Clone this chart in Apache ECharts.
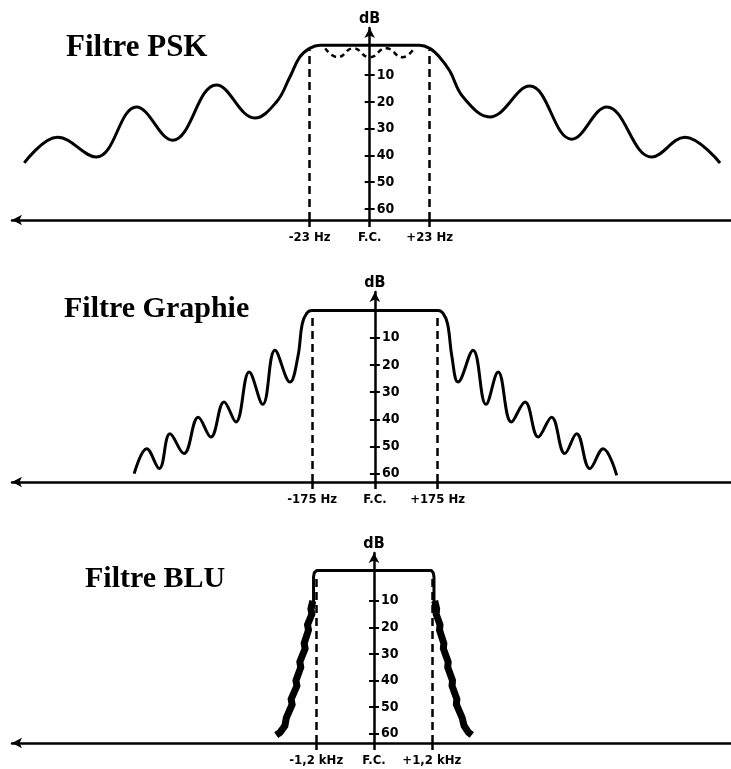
<!DOCTYPE html>
<html><head><meta charset="utf-8">
<script src="https://cdn.jsdelivr.net/npm/echarts@6/dist/echarts.min.js"></script>
<style>html,body{margin:0;padding:0;background:#fff}#c{width:731px;height:769px}</style>
</head><body><div id="c"></div>
<script>
// ---------- data ----------
const titles = ['Filtre PSK', 'Filtre Graphie', 'Filtre BLU'];
const dbTicks = [10, 20, 30, 40, 50, 60];

const pskXTicks = [-23, 0, 23];
const pskXLabels = ['-23 Hz', 'F.C.', '+23 Hz'];
const pskCutoff = [-23, 23];
const pskCurve = [[-132.3,42.8],[-119.6,33.2],[-104.7,40.6],[-89.3,21.9],[-75.5,34.3],[-58.7,13.7],[-44,26],[-35.7,20],[-30.7,11],[-26.8,3.3],[-23,0],[-19,-1.2],
  [19,-1.2],[23,0],[26.8,3.3],[30.7,8.5],[35.7,18.1],[46,25.6],[61.3,14.1],[77.4,33.9],[90.8,21.9],[108.1,40.6],[120.7,33.2],[134.2,42.8]];
const pskRipple = [[-17,0],[-12.3,3.3],[-6.3,0],[0,3.3],[6.3,0],[12.6,3.3],[17,0]];

const graphieXTicks = [-175, 0, 175];
const graphieXLabels = ['-175 Hz', 'F.C.', '+175 Hz'];
const graphieCutoff = [-175, 175];
const graphieCurve = [[-672,60],[-637,50.8],[-602,58.1],[-572,45.3],[-533,52.6],[-493,39.2],[-458,46.5],[-421,33.6],[-388,41],[-351,22.6],[-313,34.5],[-279,14.6],[-237,26.3],[-215,17],[-203,5],[-190,1],[-176,0],
  [176,0],[190,1],[203,5],[215,17],[232,26.3],[274,14.6],[310,34.5],[344,22.6],[381,41],[419,33.6],[456,46.5],[493,39.2],[530,52.6],[563,45.3],[600,58.1],[637,50.8],[675,60.6]];

const bluXTicks = [-1200, 0, 1200];
const bluXLabels = ['-1,2 kHz', 'F.C.', '+1,2 kHz'];
const bluCutoff = [-1200, 1200];
const bluCurve = [[-1255,13],[-1255,1],[-1240,-0.6],[-1190,-1.4],[1190,-1.4],[1230,-0.6],[1245,1],[1245,13]];
const bluSkirtLeft = [[-1270,10],[-1310,13],[-1290,15],[-1380,19],[-1360,21],[-1450,26],[-1430,28],[-1540,33],[-1520,35],[-1620,40],[-1600,42],[-1720,47],[-1700,49],[-1820,54],[-1850,57],[-1950,59.5],[-2030,60.5]];
const bluSkirtRight = [[1260,10],[1300,13],[1290,15],[1370,19],[1360,21],[1450,26],[1440,28],[1540,33],[1530,35],[1630,40],[1620,42],[1720,47],[1710,49],[1830,54],[1870,57],[1960,59.5],[2030,60.5]];

// ---------- layout ----------
const NARROW = "'Liberation Sans Narrow','DejaVu Sans Condensed',sans-serif";
const GRID_LEFT = 12, GRID_W = 719;
const panels = [
  {top: 28, height: 192, xmin: -137, xmax: 138.4, ymin: -7.6, ymax: 64.1, ticks: pskXTicks, labels: pskXLabels, cut: pskCutoff, cutTop: 0.5,
   curves: [pskCurve], skirts: [], ripple: pskRipple, smooth: 0.4, title: {x: 66, top: 32, size: 31}},
  {top: 292, height: 190, xmin: -1013, xmax: 994, ymin: -6.8, ymax: 63.05, ticks: graphieXTicks, labels: graphieXLabels, cut: graphieCutoff, cutTop: 2,
   curves: [graphieCurve], skirts: [], ripple: null, smooth: 0.4, title: {x: 64, top: 294, size: 30}},
  {top: 553, height: 190, xmin: -7515, xmax: 7411, ymin: -8, ymax: 63.5, ticks: bluXTicks, labels: bluXLabels, cut: bluCutoff, cutTop: 0.5,
   curves: [bluCurve], skirts: [bluSkirtLeft, bluSkirtRight], ripple: null, smooth: false, title: {x: 85, top: 564, size: 30}}
];

const grid = [], xAxis = [], yAxis = [], series = [], graphic = [];
panels.forEach((p, i) => {
  grid.push({left: GRID_LEFT, width: GRID_W, top: p.top, height: p.height});
  // place the dB axis at F.C. (x = 0) of this panel's frequency scale
  const yOffset = -GRID_W * (0 - p.xmin) / (p.xmax - p.xmin);
  xAxis.push({
    gridIndex: i, type: 'value', min: p.xmin, max: p.xmax,
    axisLine: {show: true, onZero: false, symbol: ['arrow', 'none'], symbolSize: [8, 10], lineStyle: {color: '#000', width: 2.5}},
    axisTick: {show: true, customValues: p.ticks, length: 7, lineStyle: {color: '#000', width: 2.5}},
    axisLabel: {show: true, customValues: p.ticks, margin: 11, color: '#000', fontFamily: NARROW, fontWeight: 'bold', fontSize: 13,
      formatter: v => { const k = p.ticks.indexOf(v); return k >= 0 ? p.labels[k] : ''; }},
    splitLine: {show: false}
  });
  const yBase = {gridIndex: i, type: 'value', inverse: true, min: p.ymin, max: p.ymax, position: 'left', offset: yOffset, splitLine: {show: false}};
  yAxis.push(Object.assign({}, yBase, {
    name: 'dB', nameLocation: 'start', nameGap: 1,
    nameTextStyle: {color: '#000', fontFamily: NARROW, fontWeight: 'bold', fontSize: 16},
    axisLine: {show: true, onZero: false, symbol: ['none', 'arrow'], symbolSize: [8, 10], lineStyle: {color: '#000', width: 2.5}},
    axisTick: {show: true, customValues: dbTicks, length: 5, inside: false, lineStyle: {color: '#000', width: 2}},
    axisLabel: {show: true, customValues: dbTicks, inside: true, margin: 7, color: '#000', fontFamily: NARROW, fontWeight: 'bold', fontSize: 14}
  }));
  yAxis.push(Object.assign({}, yBase, {
    axisLine: {show: false, onZero: false},
    axisTick: {show: true, customValues: dbTicks, length: 5, inside: true, lineStyle: {color: '#000', width: 2}},
    axisLabel: {show: false}
  }));
  const yIdx = 2 * i;
  p.curves.forEach((c, k) => {
    series.push({
      type: 'line', xAxisIndex: i, yAxisIndex: yIdx, data: c, smooth: p.smooth, symbol: 'none', silent: true,
      lineStyle: {color: '#000', width: 3}, z: 3,
      markLine: k === 0 ? {
        silent: true, symbol: ['none', 'none'], label: {show: false},
        lineStyle: {color: '#000', width: 2.5, type: [8, 5]},
        data: p.cut.map(cx => [{coord: [cx, p.ymax]}, {coord: [cx, p.cutTop]}])
      } : undefined
    });
  });
  p.skirts.forEach(s => {
    series.push({type: 'line', xAxisIndex: i, yAxisIndex: yIdx, data: s, smooth: false, symbol: 'none', silent: true,
      lineStyle: {color: '#000', width: 7, join: 'miter'}, z: 3});
  });
  if (p.ripple) {
    series.push({type: 'line', xAxisIndex: i, yAxisIndex: yIdx, data: p.ripple, smooth: 0.5, symbol: 'none', silent: true,
      lineStyle: {color: '#000', width: 2.5, type: [5, 4]}, z: 3});
  }
  graphic.push({type: 'text', left: p.title.x, top: p.title.top,
    style: {text: titles[i], font: 'bold ' + p.title.size + "px 'Liberation Serif','Times New Roman',serif", fill: '#000'}});
});

const chart = echarts.init(document.getElementById('c'), null, {renderer: 'canvas'});
chart.setOption({animation: false, backgroundColor: '#fff', grid, xAxis, yAxis, series, graphic});
</script></body></html>
